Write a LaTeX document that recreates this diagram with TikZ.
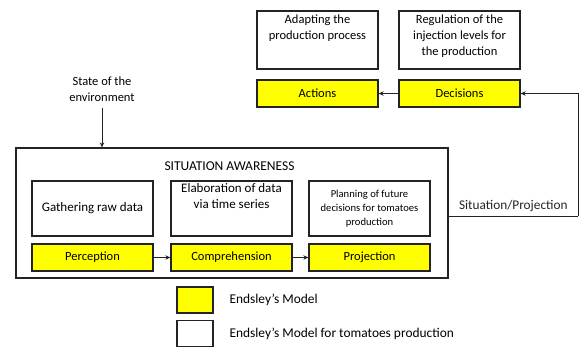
\documentclass[tikz,border=0pt]{standalone}
\usepackage{fontspec}
\setmainfont{Carlito}
\usetikzlibrary{arrows.meta, positioning}
\definecolor{EndsleyYellow}{RGB}{255, 255, 0}
\definecolor{FrameGray}{RGB}{35, 35, 35}

\tikzset{
    taskbox/.style={draw=FrameGray, line width=1.3pt, fill=white, inner sep=0pt,
        minimum width=121pt, font=\fontsize{12.5}{16}\selectfont},
    levelbox/.style={draw=FrameGray, line width=1.3pt, fill=EndsleyYellow, inner sep=0pt,
        minimum width=121pt, minimum height=27pt, font=\fontsize{12.5}{14}\selectfont},
    keybox/.style={draw=FrameGray, line width=1.3pt, minimum width=36pt, minimum height=26pt},
    flow/.style={-{Stealth[length=5pt, width=4.5pt]}, line width=1pt, FrameGray}
}

\begin{document}
\begin{tikzpicture}[x=1pt, y=-1pt]
    \useasboundingbox (0,0) rectangle (580,349);

    % actions / decisions
    \node[taskbox] (adapt) at (317.5,40) {
        \parbox[c][58pt][t]{117pt}{\centering\vspace{4pt}Adapting the\\production process}
    };
    \node[taskbox] (regul) at (459.5,40) {
        \parbox[c][58pt][t]{117pt}{\centering\vspace{4pt}Regulation of the\\injection levels for\\the production}
    };
    \node[levelbox] (actions) at (317.5,93.5) {Actions};
    \node[levelbox] (decisions) at (459.5,93.5) {Decisions};

    % situation awareness
    \node[draw=FrameGray, line width=1.3pt, minimum width=432pt, minimum height=130pt] (aware) at (232,213) {};
    \node[font=\fontsize{13.5}{15}\selectfont] (awaretitle) at (229.5,166) {SITUATION AWARENESS};
    \node[font=\fontsize{12.5}{16}\selectfont, align=center] (state) at (102,89) {State of the\\environment};

    \node[taskbox] (gather) at (92.5,208.5) {
        \parbox[c][55pt][c]{117pt}{\centering\fontsize{13}{16}\selectfont Gathering raw data}
    };
    \node[taskbox] (elab) at (231.5,208.5) {
        \parbox[c][55pt][t]{117pt}{\centering\vspace{2pt}\fontsize{13}{16}\selectfont Elaboration of data\\via time series}
    };
    \node[taskbox] (plan) at (369.5,208.5) {
        \parbox[c][55pt][c]{117pt}{\centering\fontsize{10.6}{14}\selectfont Planning of future\\decisions for tomatoes\\production}
    };
    \node[levelbox] (percep) at (92.5,257.5) {Perception};
    \node[levelbox] (compre) at (231.5,257.5) {Comprehension};
    \node[levelbox] (project) at (369.5,257.5) {Projection};

    % legend
    \node[keybox, fill=EndsleyYellow] (keyyellow) at (195,300) {};
    \node[keybox, fill=white] (keywhite) at (195,333.5) {};
    \node[anchor=west, font=\fontsize{13.4}{15}\selectfont] (keyyellowtxt) at (226,300) {Endsley’s Model};
    \node[anchor=west, font=\fontsize{13.4}{15}\selectfont] (keywhitetxt) at (226,333.5) {Endsley’s Model for tomatoes production};

    % connectors
    \coordinate (statefoot) at ([yshift=-3pt]state.south);
    \coordinate (loop) at (578,216);
    \draw[flow] (statefoot) -- (statefoot |- aware.north);
    \draw[flow] (percep) -- (compre);
    \draw[flow] (compre) -- (project);
    \draw[flow] (decisions) -- (actions);
    \draw[line width=1pt, FrameGray] (aware.east |- loop) -- node[above, font=\fontsize{13.3}{15}\selectfont] (sitproj) {Situation/Projection} (loop);
    \draw[flow] (loop) |- (decisions.east);
\end{tikzpicture}
\end{document}
